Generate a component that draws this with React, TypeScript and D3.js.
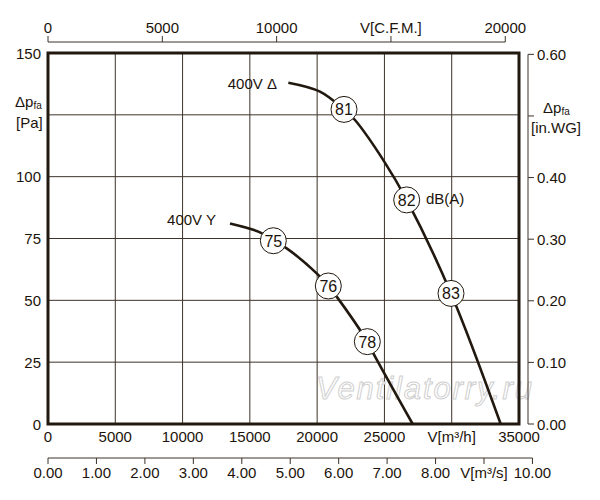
import React from "react";
import * as d3 from "d3";

const flowTicks = [0, 5000, 10000, 15000, 20000, 25000, 30000, 35000];
const flowLabels = ["0", "5000", "10000", "15000", "20000", "25000", "V[m³/h]", "35000"];
const pressureTicks = [0, 25, 50, 75, 100, 125, 150];
const pressureLabels = ["0", "25", "50", "75", "100", "", "150"];
const cfmTicks = [0, 5000, 10000, 15000, 20000];
const cfmLabels = ["0", "5000", "10000", "V[C.F.M.]", "20000"];
const m3sTicks = [0, 1, 2, 3, 4, 5, 6, 7, 8, 9, 10];
const m3sLabels = ["0.00", "1.00", "2.00", "3.00", "4.00", "5.00", "6.00", "7.00", "8.00", "V[m³/s]", "10.00"];
const inwgTicks = [0, 0.1, 0.2, 0.3, 0.4, 0.5, 0.6];
const inwgLabels = ["0.00", "0.10", "0.20", "0.30", "0.40", "", "0.60"];

const deltaFlow = [17860, 20210, 21996, 22813, 24918, 26655, 29947, 33640];
const deltaPressure = [138.0, 134.4, 127.2, 122.9, 106.7, 90.6, 52.8, 0];
const wyeFlow = [13524, 15754, 16744, 17736, 19965, 20830, 21450, 23730, 24176, 27100];
const wyePressure = [81.1, 77.5, 74.1, 71.0, 60.9, 55.8, 51.5, 33.3, 28.6, 0];

const deltaNoiseLabels = ["81", "82", "83"];
const deltaNoiseFlow = [21996, 26655, 29947];
const deltaNoisePressure = [127.2, 90.6, 52.8];
const wyeNoiseLabels = ["75", "76", "78"];
const wyeNoiseFlow = [16744, 20830, 23730];
const wyeNoisePressure = [74.1, 55.8, 33.3];

const CFM_TO_M3H = 1.699;
const INWG_TO_PA = 249.09;

const FONT = "'Liberation Sans', Arial, sans-serif";
const TEXT = "#1c140b";
const GRID = "#3d3328";
const DARK = "#21180f";

export default function App() {
  const left = 48, right = 519, top = 53, bottom = 424;
  const x = d3.scaleLinear().domain([0, 35000]).range([left, right]);
  const y = d3.scaleLinear().domain([0, 150]).range([bottom, top]);
  const xc = (v: number) => x(v * CFM_TO_M3H);
  const xs = (v: number) => x(v * 3600);
  const yi = (v: number) => y(v * INWG_TO_PA);

  const line = d3
    .line<[number, number]>()
    .x((d) => x(d[0]))
    .y((d) => y(d[1]))
    .curve(d3.curveCatmullRom.alpha(0.5));

  const deltaPath = line(deltaFlow.map((f, i) => [f, deltaPressure[i]]) as [number, number][]) || "";
  const wyePath = line(wyeFlow.map((f, i) => [f, wyePressure[i]]) as [number, number][]) || "";

  const topAxisY = 42;
  const bottomAxisY = 458;
  const rightAxisX = 528;

  const markers = [
    ...deltaNoiseLabels.map((l, i) => ({ l, f: deltaNoiseFlow[i], p: deltaNoisePressure[i] })),
    ...wyeNoiseLabels.map((l, i) => ({ l, f: wyeNoiseFlow[i], p: wyeNoisePressure[i] })),
  ];

  return (
    <svg
      width={600}
      height={500}
      style={{ position: "absolute", left: 0, top: 0, background: "#fff" }}
      fontFamily={FONT}
    >
      <rect x={0} y={0} width={600} height={500} fill="#fff" />
      {/* grid */}
      {flowTicks.slice(1, -1).map((t) => (
        <line key={"gx" + t} x1={x(t)} x2={x(t)} y1={top} y2={bottom} stroke={GRID} strokeWidth={1} />
      ))}
      {pressureTicks.slice(1, -1).map((t) => (
        <line key={"gy" + t} x1={left} x2={right} y1={y(t)} y2={y(t)} stroke={GRID} strokeWidth={1} />
      ))}

      {/* watermark */}
      <text
        x={316}
        y={399}
        fontSize={31}
        fontStyle="italic"
        fill="#ffffff"
        stroke="#cfcfcf"
        strokeWidth={1}
        fontFamily={FONT}
        textLength={216}
        lengthAdjust="spacing"
      >
        Ventilatorry.ru
      </text>

      {/* frame */}
      <rect x={left} y={top} width={right - left} height={bottom - top} fill="none" stroke={DARK} strokeWidth={3} />

      {/* curves */}
      <path d={deltaPath} fill="none" stroke={DARK} strokeWidth={2.6} />
      <path d={wyePath} fill="none" stroke={DARK} strokeWidth={2.6} />

      {markers.map((m) => (
        <g key={"m" + m.l}>
          <circle cx={x(m.f)} cy={y(m.p)} r={13} fill="#fff" stroke={DARK} strokeWidth={1} />
          <text x={x(m.f)} y={y(m.p) + 6} textAnchor="middle" fontSize={16} fill={TEXT}>
            {m.l}
          </text>
        </g>
      ))}

      <text x={277} y={89} textAnchor="end" fontSize={15} fill={TEXT}>400V Δ</text>
      <text x={216} y={225} textAnchor="end" fontSize={15} fill={TEXT}>400V Y</text>
      <text x={426} y={204} fontSize={15} fill={TEXT}>dB(A)</text>

      {/* left labels */}
      {pressureTicks.map((t, i) =>
        pressureLabels[i] ? (
          <text key={"yl" + t} x={41} y={y(t) + 5.5} textAnchor="end" fontSize={15} fill={TEXT}>
            {pressureLabels[i]}
          </text>
        ) : null
      )}
      <text x={15} y={107} fontSize={15} fill={TEXT}>
        Δp<tspan fontSize={10} dy={2}>fa</tspan>
      </text>
      <text x={16} y={128} fontSize={15} fill={TEXT}>[Pa]</text>

      {/* bottom m3/h labels */}
      {flowTicks.map((t, i) => (
        <text key={"xl" + t} x={x(t)} y={442} textAnchor="middle" fontSize={15} fill={TEXT}>
          {flowLabels[i]}
        </text>
      ))}

      {/* top CFM axis */}
      <line x1={xc(0)} x2={xc(20000)} y1={topAxisY} y2={topAxisY} stroke={GRID} strokeWidth={1} />
      {cfmTicks.map((t, i) => (
        <g key={"c" + t}>
          <line x1={xc(t)} x2={xc(t)} y1={topAxisY} y2={topAxisY - 6} stroke={GRID} strokeWidth={1} />
          <text x={xc(t)} y={33} textAnchor="middle" fontSize={15} fill={TEXT}>
            {cfmLabels[i]}
          </text>
        </g>
      ))}

      {/* bottom m3/s axis */}
      <line x1={xs(0)} x2={xs(10)} y1={bottomAxisY} y2={bottomAxisY} stroke={GRID} strokeWidth={1} />
      {m3sTicks.map((t, i) => (
        <g key={"s" + t}>
          <line x1={xs(t)} x2={xs(t)} y1={bottomAxisY} y2={bottomAxisY + 6} stroke={GRID} strokeWidth={1} />
          <text x={xs(t)} y={478} textAnchor="middle" fontSize={15} fill={TEXT}>
            {m3sLabels[i]}
          </text>
        </g>
      ))}

      {/* right in.WG axis */}
      <line x1={rightAxisX} x2={rightAxisX} y1={yi(0)} y2={yi(0.6)} stroke={GRID} strokeWidth={1} />
      {inwgTicks.map((t, i) => (
        <g key={"w" + t}>
          <line x1={rightAxisX} x2={rightAxisX + 6} y1={yi(t)} y2={yi(t)} stroke={GRID} strokeWidth={1} />
          {inwgLabels[i] ? (
            <text x={537} y={yi(t) + 5.5} fontSize={15} fill={TEXT}>
              {inwgLabels[i]}
            </text>
          ) : null}
        </g>
      ))}
      <text x={543} y={113} fontSize={15} fill={TEXT}>
        Δp<tspan fontSize={10} dy={2}>fa</tspan>
      </text>
      <text x={531} y={133} fontSize={15} fill={TEXT}>[in.WG]</text>
    </svg>
  );
}
